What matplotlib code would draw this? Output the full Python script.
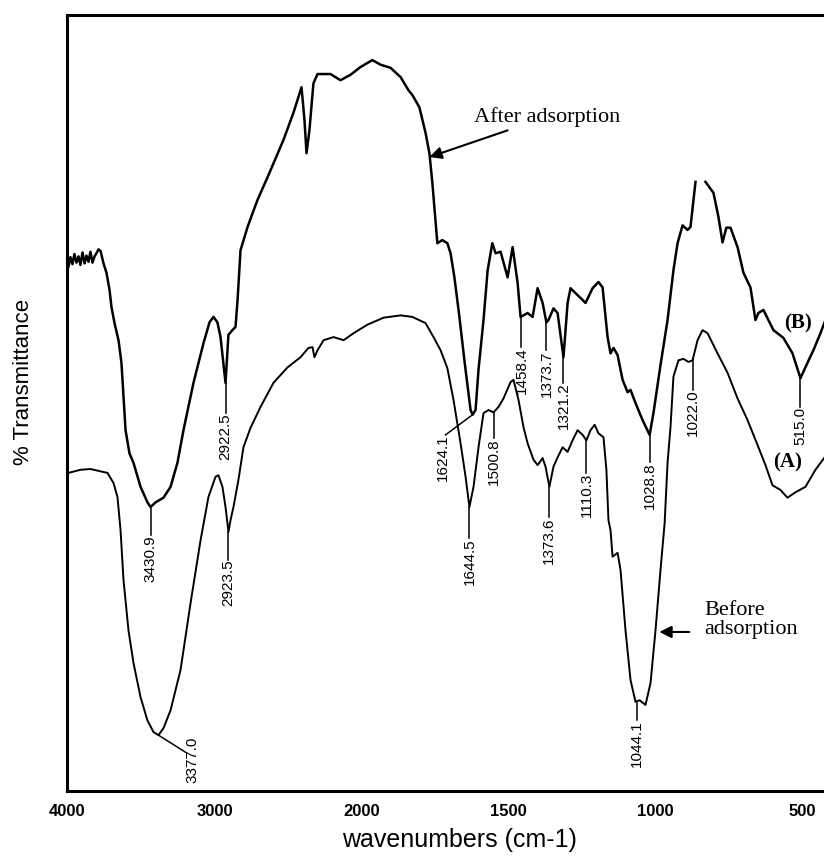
import numpy as np
import matplotlib
matplotlib.use('Agg')
import matplotlib.pyplot as plt

# FTIR spectra (wavenumber in cm-1, %T on an arbitrary 0-100 scale)
# (B) after adsorption - the peak near 850 cm-1 is cut off in the original, hence the NaN
wn_after = [3993, 3980, 3966, 3953, 3939, 3925, 3912, 3898, 3884, 3871, 3857, 3844, 3830, 3816,
            3803, 3789, 3775, 3755, 3735, 3714, 3701, 3680, 3653, 3633, 3605, 3578, 3551, 3503,
            3456, 3435, 3401, 3347, 3299, 3252, 3211, 3143, 3075, 3034, 3007, 2980, 2959, 2925,
            2905, 2878, 2857, 2843, 2823, 2775, 2707, 2639, 2531, 2463, 2408, 2388, 2374, 2354,
            2327, 2299, 2211, 2143, 2075, 2007, 1963, 1935, 1901, 1867, 1840, 1827, 1803, 1782,
            1769, 1759, 1742, 1725, 1708, 1697, 1684, 1667, 1650, 1629, 1622, 1612, 1602, 1585,
            1571, 1555, 1544, 1527, 1503, 1486, 1469, 1459, 1435, 1418, 1401, 1384, 1371, 1364,
            1347, 1333, 1313, 1299, 1289, 1265, 1238, 1214, 1194, 1180, 1163, 1153, 1143, 1129,
            1112, 1095, 1085, 1068, 1044, 1020, 1007, 983, 959, 939, 925, 908, 891, 881, 864,
            847, 830, 803, 786, 772, 759, 745, 721, 701, 677, 660, 650, 633, 616, 599, 565, 534,
            507, 483, 463, 439, 419]
t_after = [67.6, 68.8, 67.9, 69.2, 68.1, 68.9, 67.8, 69.4, 68.0, 69.0, 68.2, 69.5, 68.1, 68.9,
           69.3, 69.8, 69.6, 68.0, 66.8, 64.6, 62.4, 60.3, 58.1, 55.2, 46.5, 43.5, 42.3, 39.2,
           37.2, 36.6, 37.2, 37.8, 39.2, 42.3, 46.5, 52.6, 57.7, 60.4, 61.1, 60.4, 58.5, 52.6,
           58.8, 59.4, 59.8, 63.3, 69.7, 72.7, 76.2, 79.1, 83.9, 87.4, 90.7, 86.5, 82.2, 85.2,
           91.2, 92.4, 92.4, 91.6, 92.3, 93.3, 94.2, 93.6, 93.2, 92.0, 90.3, 89.7, 88.1, 84.8,
           82.2, 78.4, 70.6, 71.0, 70.6, 69.3, 66.2, 61.1, 55.5, 49.1, 48.5, 49.1, 54.3, 60.7,
           67.1, 70.6, 69.3, 69.5, 66.2, 70.1, 65.5, 61.1, 61.6, 61.1, 64.8, 62.9, 60.4, 60.7,
           62.2, 61.6, 55.9, 62.9, 64.8, 63.9, 62.9, 64.8, 65.6, 64.9, 58.5, 56.4, 57.1, 56.2,
           53.0, 51.4, 51.7, 50.0, 47.8, 45.9, 48.7, 54.9, 60.7, 67.1, 70.6, 72.9, 72.3, 72.7,
           78.5, np.nan, 78.5, 77.1, 74.0, 70.7, 72.6, 72.6, 70.1, 66.8, 64.9, 60.7, 61.6, 62.0,
           60.7, 59.4, 58.4, 56.4, 53.2, 55.2, 56.8, 59.0, 61.0]

# (A) before adsorption
wn_before = [3993, 3912, 3844, 3775, 3728, 3687, 3660, 3639, 3619, 3585, 3551, 3503, 3456, 3415,
             3381, 3347, 3299, 3231, 3163, 3095, 3041, 2993, 2973, 2946, 2925, 2905, 2891, 2871,
             2837, 2803, 2755, 2687, 2599, 2503, 2415, 2361, 2333, 2320, 2299, 2258, 2190, 2122,
             2054, 1980, 1925, 1867, 1827, 1782, 1755, 1731, 1708, 1687, 1663, 1646, 1633, 1619,
             1602, 1585, 1568, 1551, 1534, 1517, 1493, 1483, 1466, 1449, 1435, 1415, 1401, 1384,
             1374, 1361, 1347, 1333, 1316, 1299, 1282, 1265, 1248, 1235, 1221, 1207, 1194, 1177,
             1167, 1160, 1153, 1146, 1129, 1119, 1102, 1085, 1068, 1054, 1034, 1017, 1000, 983,
             969, 959, 949, 939, 922, 905, 888, 874, 857, 840, 823, 789, 755, 721, 687, 653, 626,
             602, 575, 551, 524, 490, 456, 419]
t_before = [41.0, 41.4, 41.5, 41.2, 41.0, 39.7, 37.9, 33.6, 27.2, 20.7, 16.5, 12.1, 9.1, 7.6,
            7.2, 8.1, 10.4, 15.6, 24.2, 32.3, 37.9, 40.5, 40.7, 39.2, 36.6, 33.4, 34.9, 36.6,
            40.1, 44.3, 46.8, 49.5, 52.6, 54.6, 55.9, 57.1, 57.2, 55.9, 56.8, 58.1, 58.5, 58.1,
            59.0, 60.1, 61.0, 61.3, 61.1, 60.3, 58.5, 56.8, 54.5, 50.4, 44.8, 40.5, 36.6, 39.2,
            44.3, 48.7, 49.1, 48.8, 49.5, 50.6, 52.7, 53.0, 50.4, 46.9, 44.8, 42.7, 42.0, 42.9,
            41.8, 39.2, 41.8, 43.0, 44.3, 43.7, 45.2, 46.5, 45.9, 45.2, 46.5, 47.2, 46.1, 45.6,
            41.4, 34.9, 33.6, 30.2, 30.7, 28.5, 20.7, 14.3, 11.5, 11.7, 11.1, 13.9, 20.7, 28.5,
            34.5, 42.3, 46.9, 53.4, 55.5, 55.7, 55.3, 55.5, 58.1, 59.4, 59.0, 56.4, 53.9, 50.6,
            47.8, 44.6, 42.0, 39.4, 38.8, 37.8, 38.5, 39.2, 41.4, 43.3]

# peak labels: text, x of leader, %T at the curve, %T where the text starts
peak_text = ['3430.9', '2922.5', '2923.5', '1644.5', '1500.8', '1458.4', '1373.7', '1321.2',
             '1373.6', '1110.3', '1028.8', '1044.1', '1022.0', '515.0']
peak_x = [3435, 2925, 2905, 1633, 1551, 1456, 1371, 1313, 1361, 1235, 1020, 1064, 874, 507]
peak_t = [36.6, 52.6, 33.4, 36.6, 48.8, 61.1, 60.4, 55.9, 39.2, 45.2, 45.9, 11.3, 55.5, 53.2]
label_t = [33.0, 48.7, 29.8, 32.6, 45.5, 57.2, 56.8, 52.6, 35.3, 41.0, 42.4, 9.1, 51.7, 49.5]

xticks = [4000, 3000, 2000, 1500, 1000, 500]


def forward(x):
    x = np.asarray(x, dtype=float)
    return np.where(x > 2000, 2000 + (x - 2000) / 2.0, x)


def inverse(u):
    u = np.asarray(u, dtype=float)
    return np.where(u > 2000, 2000 + (u - 2000) * 2.0, u)


plt.rcParams['font.family'] = ['Liberation Sans', 'DejaVu Sans']

fig = plt.figure(figsize=(8.24, 8.56), dpi=100)
ax = fig.add_axes([0.0819, 0.0759, 0.9277, 0.9065])
ax.set_xscale('function', functions=(forward, inverse))  # spectrometer halves the scale above 2000
ax.set_xlim(4000, 400)
ax.set_ylim(0, 100)

ax.plot(wn_after, t_after, color='black', linewidth=1.8)
ax.plot(wn_before, t_before, color='black', linewidth=1.4)

# peak labels with vertical leaders
for txt, x, yc, yt in zip(peak_text, peak_x, peak_t, label_t):
    ax.plot([x, x], [yc, yt], color='black', linewidth=1.1)
    ax.text(x, yt, txt, rotation=90, ha='center', va='top', fontsize=11)

# the two with slanted leaders
ax.plot([3381, 3197], [7.2, 5.0], color='black', linewidth=1.1)
ax.text(3150, 7.0, '3377.0', rotation=90, ha='center', va='top', fontsize=11)
ax.plot([1622, 1714], [48.5, 45.9], color='black', linewidth=1.1)
ax.text(1724, 45.9, '1624.1', rotation=90, ha='center', va='top', fontsize=11)

serif = ['Liberation Serif', 'DejaVu Serif']
ax.annotate('After adsorption', xy=(1769, 81.7), xytext=(1616, 86.9), family=serif,
            fontsize=16, ha='left', va='center',
            arrowprops=dict(arrowstyle='-|>', color='black', lw=1.5, mutation_scale=18,
                            shrinkA=2, shrinkB=0))
ax.text(834, 22.0, 'Before\nadsorption', family=serif, fontsize=16, ha='left', va='center',
        linespacing=1.0)
ax.annotate('', xy=(987, 20.5), xytext=(885, 20.5),
            arrowprops=dict(arrowstyle='-|>', color='black', lw=1.5, mutation_scale=18,
                            shrinkA=0, shrinkB=0))
ax.text(514, 60.2, '(B)', family=serif, fontsize=15, fontweight='bold', ha='center', va='center')
ax.text(551, 42.4, '(A)', family=serif, fontsize=15, fontweight='bold', ha='center', va='center')

ax.set_xticks(xticks)
ax.set_xticklabels([str(v) for v in xticks], fontweight='bold', fontsize=12)
ax.set_yticks([])
ax.tick_params(axis='x', length=0, pad=9)
for sp in ax.spines.values():
    sp.set_linewidth(2.2)

ax.set_xlabel('wavenumbers (cm-1)', fontsize=18)
ax.xaxis.set_label_coords(0.513, -0.048)
ax.set_ylabel('% Transmittance', fontsize=16)
ax.yaxis.set_label_coords(-0.044, 0.527)

fig.savefig('out.png', dpi=100)
